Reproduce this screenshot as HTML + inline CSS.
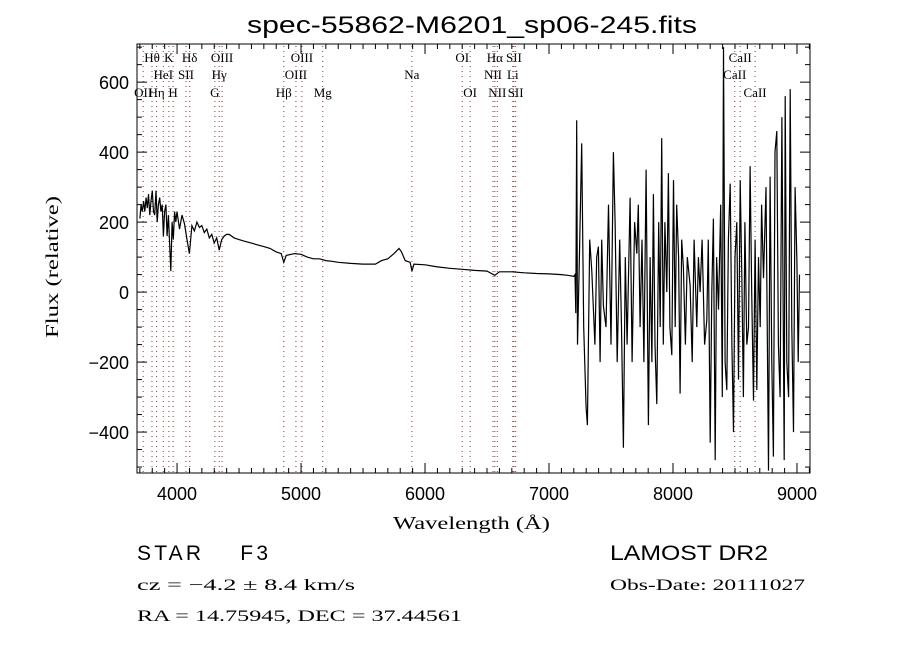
<!DOCTYPE html>
<html><head><meta charset="utf-8"><style>
body{margin:0;background:#fff;}
svg text{font-family:"Liberation Sans",sans-serif;}
.s{font-family:"Liberation Serif",serif;}
</style></head><body>
<svg id="chart" width="900" height="650" viewBox="0 0 900 650" xmlns="http://www.w3.org/2000/svg">
<rect width="900" height="650" fill="#fff"/>
<text x="247" y="33" font-size="24" textLength="450" lengthAdjust="spacingAndGlyphs">spec-55862-M6201_sp06-245.fits</text>
<g id="lines"></g>
<g id="spec"></g>
<rect x="137" y="44" width="673" height="429" fill="none" stroke="#000" stroke-width="1"/>
<g id="axes"></g>
<text x="393" y="529" font-size="18" textLength="157" lengthAdjust="spacingAndGlyphs" class="s">Wavelength (Å)</text>
<text transform="translate(58,338) rotate(-90)" font-size="18" textLength="142" lengthAdjust="spacingAndGlyphs" class="s">Flux (relative)</text>
<text x="137" y="560" font-size="21" textLength="131" lengthAdjust="spacing">STAR&#160;&#160;&#160;&#160;F3</text>
<text x="137" y="590" font-size="16" textLength="218" lengthAdjust="spacingAndGlyphs" class="s">cz = −4.2 ± 8.4 km/s</text>
<text x="137" y="621" font-size="16" textLength="325" lengthAdjust="spacingAndGlyphs" class="s">RA =  14.75945, DEC =  37.44561</text>
<text x="610" y="560" font-size="21" textLength="158" lengthAdjust="spacingAndGlyphs">LAMOST DR2</text>
<text x="610" y="590" font-size="16" textLength="195" lengthAdjust="spacingAndGlyphs" class="s">Obs-Date: 20111027</text>
</svg>
<script>
const waveSmooth=[3700,3710,3720,3730,3740,3750,3760,3770,3780,3790,3800,3810,3820,3830,3840,3850,3860,3870,3880,3890,3900,3910,3920,3930,3940,3950,3960,3970,3980,3990,4000,4020,4040,4060,4080,4100,4120,4140,4160,4180,4200,4220,4240,4260,4280,4300,4320,4340,4360,4380,4400,4420,4460,4500,4550,4600,4650,4700,4750,4800,4840,4861,4880,4950,5000,5050,5100,5150,5200,5250,5300,5400,5500,5600,5650,5700,5750,5790,5810,5840,5880,5895,5910,6000,6100,6200,6300,6400,6500,6563,6600,6700,6800,6900,7000,7100,7150,7200];
const fluxSmooth=[210,250,230,260,230,270,240,280,220,260,290,230,220,290,200,250,270,230,250,160,230,250,160,220,140,60,200,150,230,200,230,180,220,195,150,110,190,175,200,185,190,170,180,155,165,140,155,120,150,160,165,165,155,150,145,140,135,130,125,115,110,85,105,110,108,100,95,95,90,88,85,82,80,80,90,95,110,125,115,90,85,60,80,78,72,68,65,62,60,48,58,58,55,53,52,50,48,45];
const waveNoisy=[
7210,7216,7223,7230,7245,7264,7280,7299,7310,7328,
7345,7370,7385,7398,7412,7425,7439,7460,7480,7500,
7519,7533,7550,7570,7585,7600,7615,7630,7654,7670,
7690,7708,7720,7735,7750,7765,7783,7802,7815,7830,
7842,7855,7869,7885,7897,7909,7922,7935,7950,7963,
7975,7990,8004,8018,8030,8045,8057,8070,8084,8100,
8115,8138,8155,8170,8192,8205,8219,8235,8255,8273,
8285,8300,8313,8326,8340,8352,8367,8385,8398,8407,
8420,8434,8447,8461,8475,8488,8500,8515,8528,8542,
8555,8568,8580,8595,8609,8622,8635,8649,8662,8676,
8690,8703,8715,8730,8750,8770,8783,8797,8810,8823,
8837,8850,8864,8878,8890,8897,8905,8918,8932,8945,
8958,8972,8985,8999,9010,9020];
const fluxNoisy=[
50,-60,491,-150,100,425,-100,-330,-380,150,
60,-150,100,130,-200,150,-40,-100,250,-150,
400,200,-200,150,-100,-445,100,-150,270,-200,
200,110,250,-100,150,-200,350,-380,100,-200,
280,-150,-320,200,-100,440,-150,200,0,340,
-100,-180,320,-100,250,100,-290,150,70,-150,
100,20,-200,150,-100,100,0,150,-150,-80,
150,-430,0,210,-480,100,-50,250,-300,700,
-200,-280,150,310,-150,-400,100,200,-250,320,
50,-300,200,-150,-100,360,0,-310,150,-280,
100,-100,250,40,300,-510,330,-200,-470,400,
460,-150,-300,500,-100,-480,560,-200,-300,580,
-100,-400,300,90,-200,50];
const xTicks=[4000,5000,6000,7000,8000,9000];
const yTicks=[-400,-200,0,200,400,600];
const lineWave=[3727,3798,3835,3889,3934,3968,4072,4102,4305,4340,4363,4861,4959,5007,5175,5894,6300,6364,6548,6563,6583,6708,6717,6731,8498,8542,8662];
const lineLabel=["OII","Hθ","Hη","HeI","K","H","SII","Hδ","G","Hγ","OIII","Hβ","OIII","OIII","Mg","Na","OI","OI","NII","Hα","NII","Li","SII","SII","CaII","CaII","CaII"];
const lineRow=[2,0,2,1,0,2,1,0,2,1,0,2,1,0,2,1,0,2,1,0,2,1,0,2,1,0,2];
const rowY=[62,79,97];
const wave=waveSmooth.concat(waveNoisy);
const flux=fluxSmooth.concat(fluxNoisy);
const X0=3677,X1=9105,Y0=-517,Y1=709;
const px=w=>137+(w-X0)/(X1-X0)*673;
const py=v=>473-(v-Y0)/(Y1-Y0)*429;
const NS="http://www.w3.org/2000/svg";
function mk(t,parent,attrs){const e=document.createElementNS(NS,t);for(const k in attrs)e.setAttribute(k,attrs[k]);parent.appendChild(e);return e;}
const spec=document.getElementById('spec');
let d="";
const n=Math.min(wave.length,flux.length);
for(let i=0;i<n;i++){const v=Math.max(Y0,Math.min(Y1,flux[i]));d+=(i?"L":"M")+px(wave[i]).toFixed(1)+" "+py(v).toFixed(1);}
const path=mk('path',spec,{d:d,fill:"none",stroke:"#000","stroke-width":"1.2"});


const lines=document.getElementById('lines');
for(let i=0;i<lineWave.length;i++){
 const x=px(lineWave[i]);
 const l=mk('line',lines,{x1:x,x2:x,y1:46,y2:473,stroke:"#8a3a3a","stroke-width":"1","stroke-dasharray":"1 4"});
 
 
 const t=mk('text',lines,{x:x,y:rowY[lineRow[i]],"font-size":"13","text-anchor":"middle",class:"s"});
 t.textContent=lineLabel[i];
 
 
}
const axes=document.getElementById('axes');
for(let w=3700;w<=9100;w+=100){const x=px(w);const L=(w%1000===0)?10:5;
 mk('line',axes,{x1:x,x2:x,y1:473,y2:473-L,stroke:"#000"});mk('line',axes,{x1:x,x2:x,y1:44,y2:44+L,stroke:"#000"});}
for(let v=-500;v<=700;v+=50){const y=py(v);const L=(v%200===0)?10:5;
 mk('line',axes,{x1:137,x2:137+L,y1:y,y2:y,stroke:"#000"});mk('line',axes,{x1:810,x2:810-L,y1:y,y2:y,stroke:"#000"});}
xTicks.forEach(w=>{const t=mk('text',axes,{x:px(w),y:500,"font-size":"18","text-anchor":"middle"});t.textContent=w;
 
 });
yTicks.forEach(v=>{const t=mk('text',axes,{x:129,y:py(v)+7,"font-size":"18","text-anchor":"end"});t.textContent=v<0?"−"+(-v):v;
 
 });
</script>
</body></html>
